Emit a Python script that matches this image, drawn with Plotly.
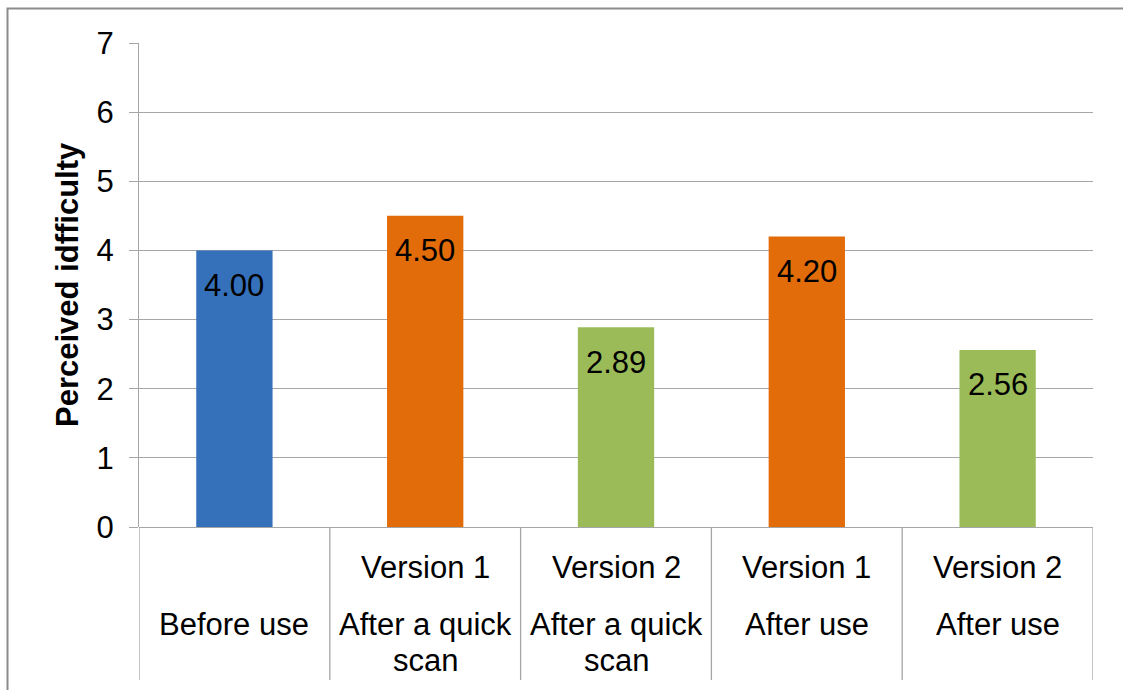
import plotly.graph_objects as go

# Category labels (two text levels per column) and mean scores
level_top = ["", "Version 1", "Version 2", "Version 1", "Version 2"]
level_bottom = [["Before use"], ["After a quick", "scan"], ["After a quick", "scan"],
                ["After use"], ["After use"]]
scores = [4.00, 4.50, 2.89, 4.20, 2.56]
bar_colors = ["#3571ba", "#e36c0a", "#9bbb59", "#e36c0a", "#9bbb59"]
y_ticks = [0, 1, 2, 3, 4, 5, 6, 7]

FONT = "Liberation Sans, Arial, sans-serif"
GRID = "#a6a6a6"
FS = 31

W, H = 1123, 690
L, R, T, B = 139, 30, 43, 163
plot_w, plot_h = W - L - R, H - T - B

xs = list(range(len(scores)))

fig = go.Figure()
fig.add_trace(go.Bar(
    x=xs, y=scores, width=0.4,
    marker=dict(color=bar_colors, line=dict(width=0)),
    hoverinfo="skip",
))

annotations = []
# value labels inside the top of each bar
for x, v in zip(xs, scores):
    annotations.append(dict(
        x=x, y=v, xref="x", yref="y", text=f"{v:.2f}", showarrow=False,
        yanchor="middle", yshift=-35, font=dict(family=FONT, size=FS, color="black"),
    ))

# two-level category labels under the axis
for x, top, bottom in zip(xs, level_top, level_bottom):
    if top:
        annotations.append(dict(
            x=x, y=0, xref="x", yref="paper", text=top, showarrow=False,
            yanchor="middle", yshift=-40, font=dict(family=FONT, size=FS, color="black"),
        ))
    for k, line in enumerate(bottom):
        annotations.append(dict(
            x=x, y=0, xref="x", yref="paper", text=line, showarrow=False,
            yanchor="middle", yshift=-(97 + 36 * k),
            font=dict(family=FONT, size=FS, color="black"),
        ))

# rotated value-axis title
annotations.append(dict(
    x=(67 - L) / plot_w, y=((H - B) - 285) / plot_h, xref="paper", yref="paper",
    text="<b>Perceived idfficulty</b>", showarrow=False, textangle=-90,
    xanchor="center", yanchor="middle",
    font=dict(family=FONT, size=31, color="black"),
))

shapes = []
# category separators running down through the label area
for i in range(len(scores) + 1):
    shapes.append(dict(
        type="line", xref="x", yref="paper", x0=i - 0.5, x1=i - 0.5,
        y0=0, y1=-(680 - (H - B)) / plot_h, line=dict(color=GRID, width=1.3),
    ))
# chart frame
shapes.append(dict(
    type="rect", xref="paper", yref="paper",
    x0=(7.5 - L) / plot_w, x1=(1140 - L) / plot_w,
    y0=-(720 - (H - B)) / plot_h, y1=((H - B) - 8.5) / plot_h,
    line=dict(color="#8c8c8c", width=2), fillcolor="rgba(0,0,0,0)", layer="below",
))

fig.update_layout(
    width=W, height=H,
    margin=dict(l=L, r=R, t=T, b=B, pad=0),
    paper_bgcolor="white", plot_bgcolor="white",
    showlegend=False, bargap=0.6,
    xaxis=dict(
        range=[-0.5, len(scores) - 0.5], showticklabels=False, showgrid=False,
        zeroline=False, showline=False, ticks="", fixedrange=True,
    ),
    yaxis=dict(
        range=[0, 7], tickvals=y_ticks, ticktext=[str(t) for t in y_ticks],
        showgrid=True, gridcolor=GRID, gridwidth=1.3,
        showline=True, linecolor=GRID, linewidth=1.3,
        zeroline=True, zerolinecolor=GRID, zerolinewidth=1.3,
        ticks="outside", ticklen=9, tickcolor=GRID, tickwidth=1.3,
        ticklabelstandoff=9,
        tickfont=dict(family=FONT, size=FS, color="black"),
        fixedrange=True,
    ),
    annotations=annotations,
    shapes=shapes,
)

fig.write_html("out.html")
